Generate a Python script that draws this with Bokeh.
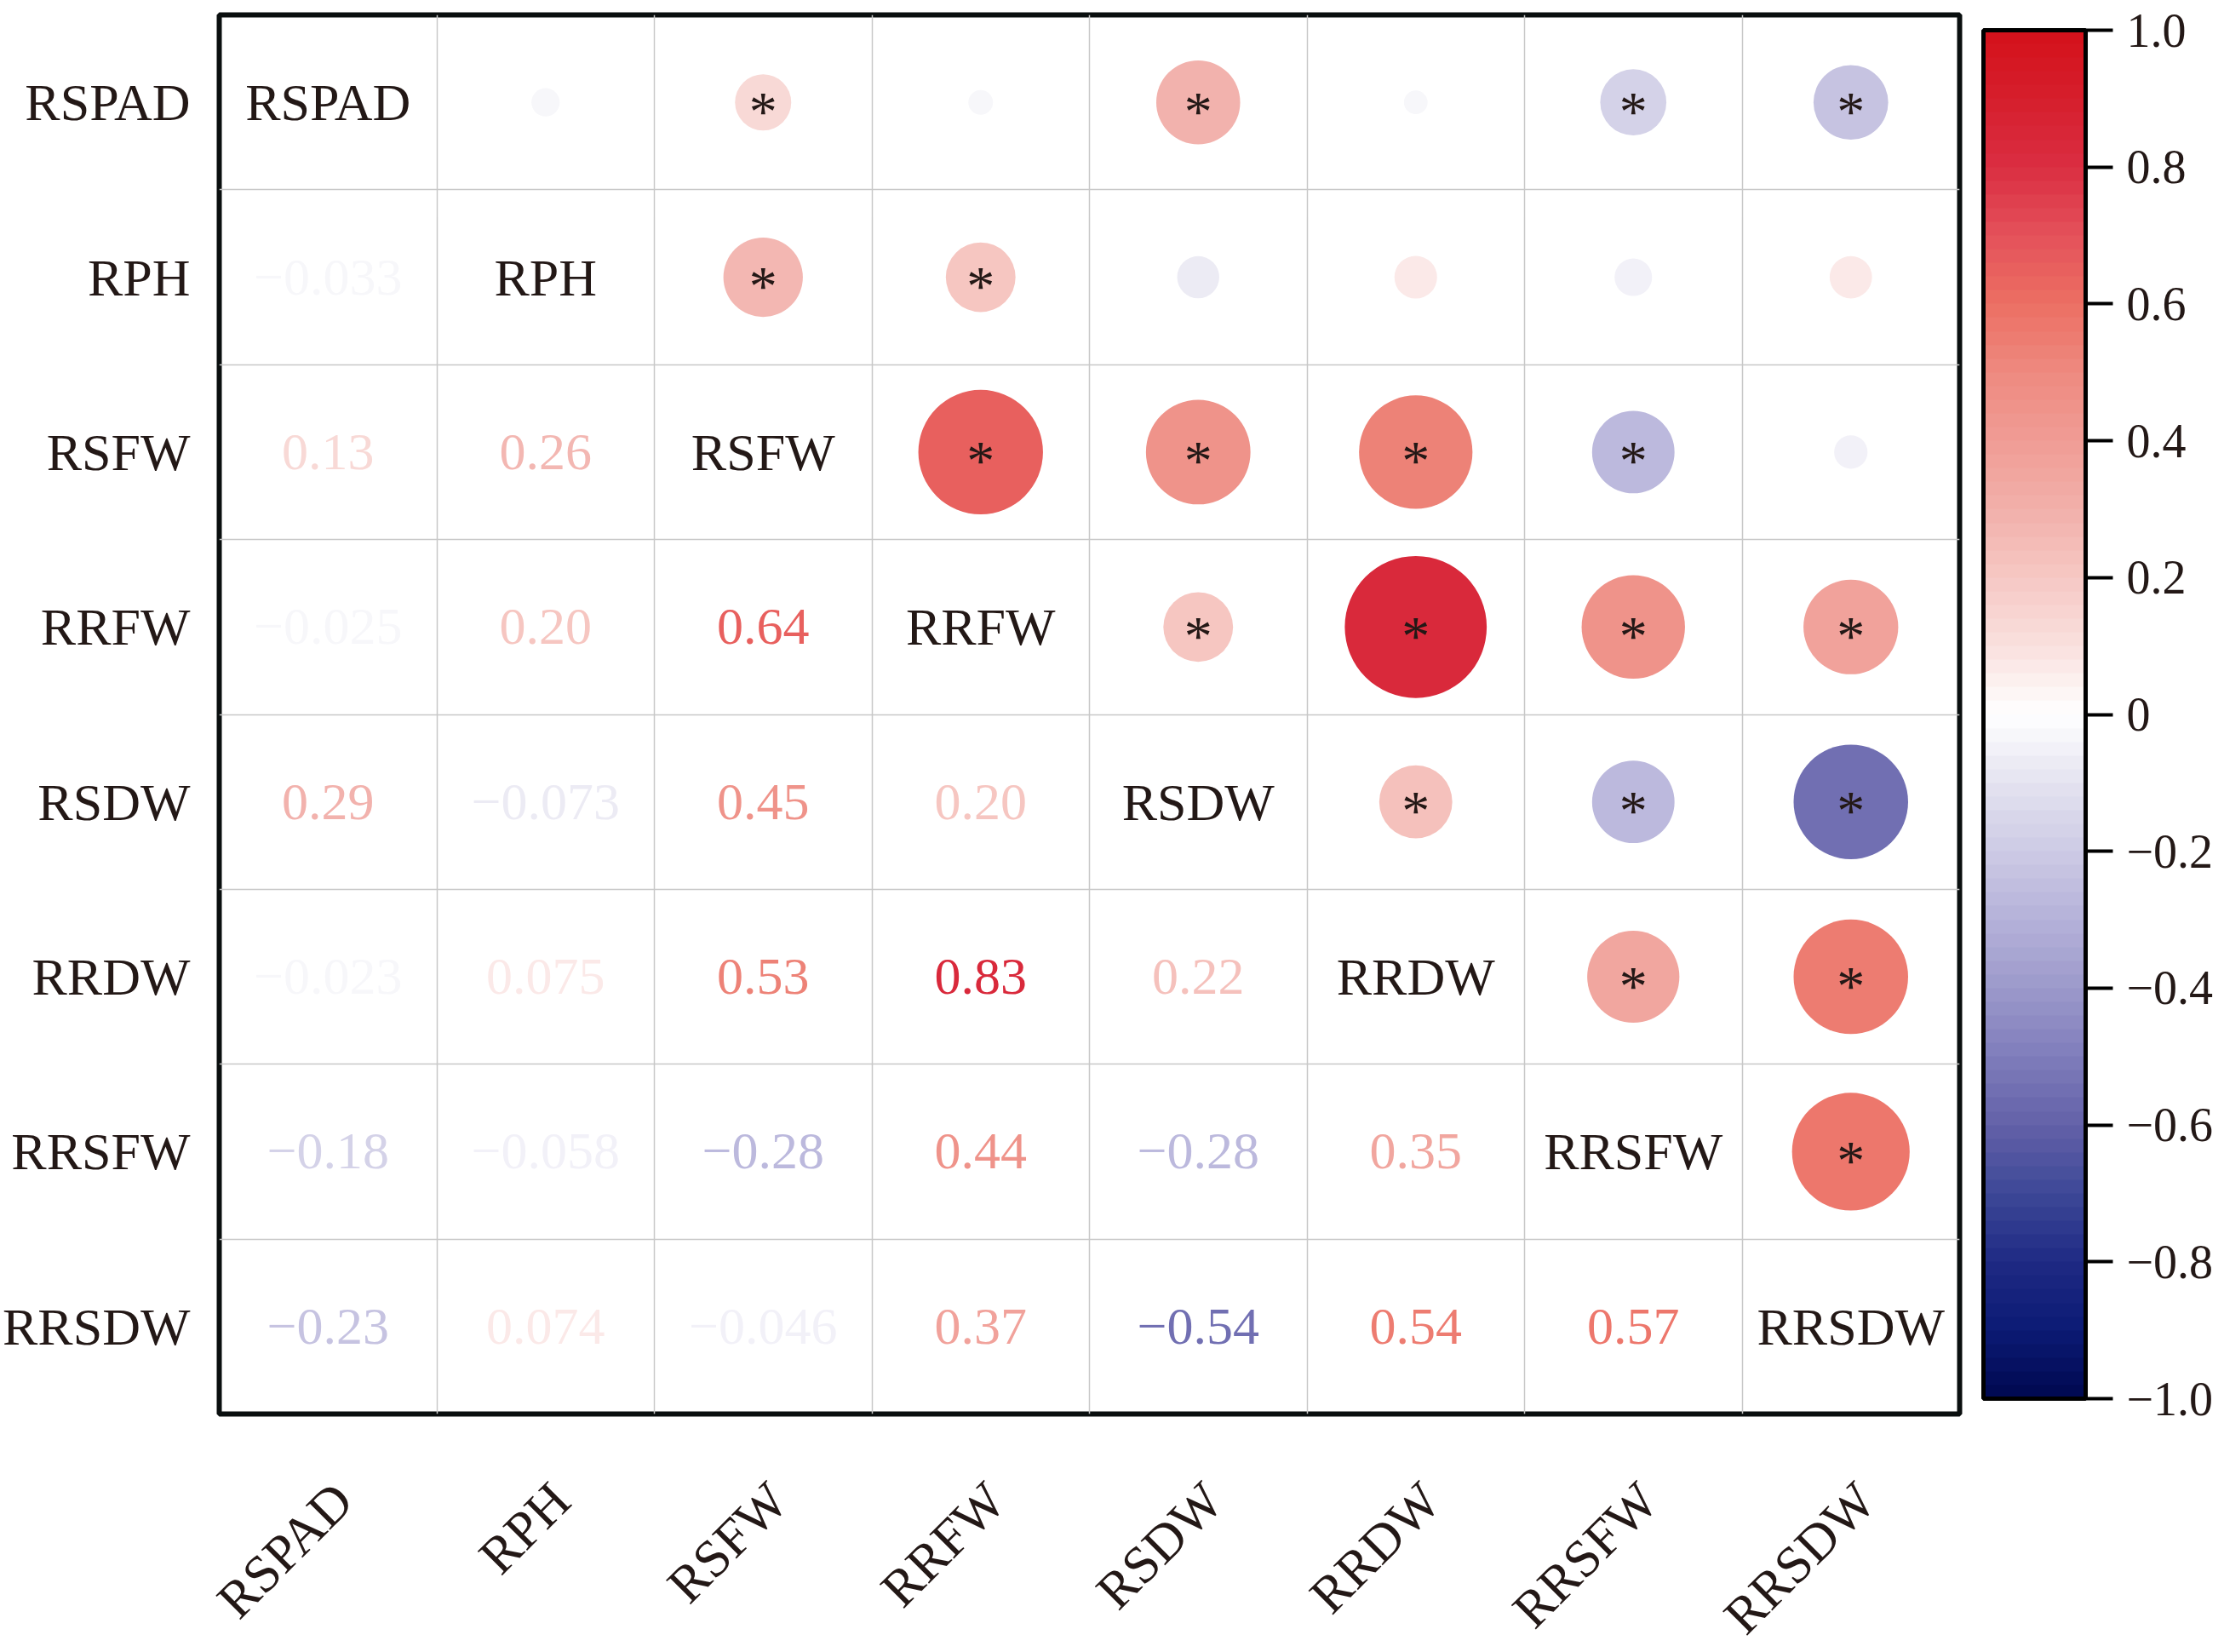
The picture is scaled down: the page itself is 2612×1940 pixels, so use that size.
import math
from bokeh.plotting import figure
from bokeh.models import (ColumnDataSource, Range1d, FixedTicker, LinearColorMapper,
                          ColorBar, CustomJSTickFormatter)
from bokeh.transform import transform
from bokeh.core.properties import value
from bokeh.embed import file_html
from bokeh.resources import INLINE

# ---------------- data ----------------
variables = ["RSPAD", "RPH", "RSFW", "RRFW", "RSDW", "RRDW", "RRSFW", "RRSDW"]

# lower-triangle correlations, row i holds the values for columns 0..i-1
corr_rows = [
    [],
    [-0.033],
    [0.13, 0.26],
    [-0.025, 0.20, 0.64],
    [0.29, -0.073, 0.45, 0.20],
    [-0.023, 0.075, 0.53, 0.83, 0.22],
    [-0.18, -0.058, -0.28, 0.44, -0.28, 0.35],
    [-0.23, 0.074, -0.046, 0.37, -0.54, 0.54, 0.57],
]

# significance flags for the same pairs (1 = marked with *)
sig_rows = [
    [],
    [0],
    [1, 1],
    [0, 1, 1],
    [1, 0, 1, 1],
    [0, 0, 1, 1, 1],
    [1, 0, 1, 1, 1, 1],
    [1, 0, 0, 1, 1, 1, 1],
]

colorbar_ticks = [-1.0, -0.8, -0.6, -0.4, -0.2, 0.0, 0.2, 0.4, 0.6, 0.8, 1.0]

# ---------------- colour palette (style) ----------------
anchors = [
    (-1.0, "#00084f"), (-0.9, "#0b1a74"), (-0.8, "#1f2a84"), (-0.7, "#3d4897"),
    (-0.6, "#6361a8"), (-0.5, "#7f7dbb"), (-0.4, "#9c99cb"), (-0.3, "#b5b2d9"),
    (-0.2, "#cdcae5"), (-0.1, "#e4e3f0"), (0.0, "#ffffff"), (0.1, "#f9e0de"),
    (0.2, "#f6c8c4"), (0.3, "#f2b0aa"), (0.4, "#f09c95"), (0.5, "#ee8a80"),
    (0.6, "#ec6f63"), (0.7, "#e4515a"), (0.8, "#da2e42"), (0.9, "#d61e2c"),
    (1.0, "#d4111a"),
]


def _rgb(h):
    return tuple(int(h[i:i + 2], 16) for i in (1, 3, 5))


def _interp(v):
    for (v0, c0), (v1, c1) in zip(anchors[:-1], anchors[1:]):
        if v0 <= v <= v1:
            t = (v - v0) / (v1 - v0)
            a, b = _rgb(c0), _rgb(c1)
            return "#%02x%02x%02x" % tuple(round(a[k] + (b[k] - a[k]) * t) for k in range(3))
    return anchors[-1][1]


N = 100
palette = [_interp(-1 + 2 * (k + 0.5) / N) for k in range(N)]
mapper = LinearColorMapper(palette=palette, low=-1, high=1)

# ---------------- sources ----------------
def fmt(v):
    a = abs(v)
    s = f"{a:.2f}" if a >= 0.1 else f"{a:.3f}"
    return ("\u2212" if v < 0 else "") + s


lx, ly, lr, lt = [], [], [], []
ux, uy, ur, us = [], [], [], []
sx, sy = [], []
for i, row in enumerate(corr_rows):
    for j, r in enumerate(row):
        lx.append(j + 0.5); ly.append(i + 0.5); lr.append(r); lt.append(fmt(r))
        ux.append(i + 0.5); uy.append(j + 0.5); ur.append(r)
        us.append(183 * math.sqrt(abs(r)))
        if sig_rows[i][j]:
            sx.append(i + 0.5); sy.append(j + 0.5)

lower_src = ColumnDataSource(dict(x=lx, y=ly, r=lr, label=lt))
upper_src = ColumnDataSource(dict(x=ux, y=uy, r=ur, size=us))
star_src = ColumnDataSource(dict(x=sx, y=sy, label=["*"] * len(sx)))
diag_src = ColumnDataSource(dict(x=[k + 0.5 for k in range(len(variables))],
                                 y=[k + 0.5 for k in range(len(variables))],
                                 label=variables))

FONT = "Liberation Serif"
DARK = "#231816"
FS = "62px"

p = figure(output_backend="svg", toolbar_location=None,
           x_range=Range1d(0, 8), y_range=Range1d(8, 0),
           frame_width=2044, frame_height=1643,
           min_border_left=250, min_border_top=17, min_border_right=300, min_border_bottom=256,
           background_fill_color="white", border_fill_color="white")

p.outline_line_color = "#0a0f0f"
p.outline_line_width = 6

# grid at cell boundaries
p.xgrid.ticker = FixedTicker(ticks=list(range(1, 8)))
p.ygrid.ticker = FixedTicker(ticks=list(range(1, 8)))
for g in (p.xgrid, p.ygrid):
    g.grid_line_color = "#c8c8c8"
    g.grid_line_width = 1.5

# axes with variable names
centers = [k + 0.5 for k in range(len(variables))]
xticks = [c + 0.07 for c in centers]
p.xaxis.ticker = FixedTicker(ticks=xticks)
p.xaxis.major_label_overrides = {c: n for c, n in zip(xticks, variables)}
p.yaxis.ticker = FixedTicker(ticks=centers)
p.yaxis.major_label_overrides = {c: n for c, n in zip(centers, variables)}
for ax in (p.xaxis, p.yaxis):
    ax.axis_line_color = None
    ax.major_tick_line_color = None
    ax.minor_tick_line_color = None
    ax.major_label_text_font = FONT
    ax.major_label_text_font_size = FS
    ax.major_label_text_color = DARK
p.yaxis.major_label_standoff = 28
p.xaxis.major_label_orientation = math.pi / 4
p.xaxis.major_label_standoff = 85

# upper triangle circles
p.scatter("x", "y", source=upper_src, size="size", marker="circle",
          fill_color=transform("r", mapper), line_color=None)
p.text("x", "y", text="label", source=star_src, text_align="center",
       text_baseline="middle", y_offset=10, text_font=value(FONT),
       text_font_size="66px", text_color=DARK)

# lower triangle numbers
p.text("x", "y", text="label", source=lower_src, text_align="center",
       text_baseline="middle", text_font=value(FONT), text_font_size=FS,
       text_color=transform("r", mapper))

# diagonal names
p.text("x", "y", text="label", source=diag_src, text_align="center",
       text_baseline="middle", text_font=value(FONT), text_font_size=FS,
       text_color=DARK)

cb = ColorBar(color_mapper=mapper, width=120, height=1607, location=(28, 18),
              ticker=FixedTicker(ticks=colorbar_ticks),
              formatter=CustomJSTickFormatter(code="""
                  const t = Math.round(tick*10)/10;
                  if (t === 0) return "0";
                  return (t < 0 ? "\\u2212" : "") + Math.abs(t).toFixed(1);
              """),
              major_tick_out=32, major_tick_in=0, major_tick_line_color="black",
              major_tick_line_width=4, minor_tick_line_color=None,
              bar_line_color="black", bar_line_width=5, border_line_color=None,
              background_fill_color=None, padding=0, margin=0, label_standoff=16,
              major_label_text_font=FONT, major_label_text_font_size="56px",
              major_label_text_color=DARK)
p.add_layout(cb, "right")

open("out.html", "w").write(file_html(p, INLINE))
